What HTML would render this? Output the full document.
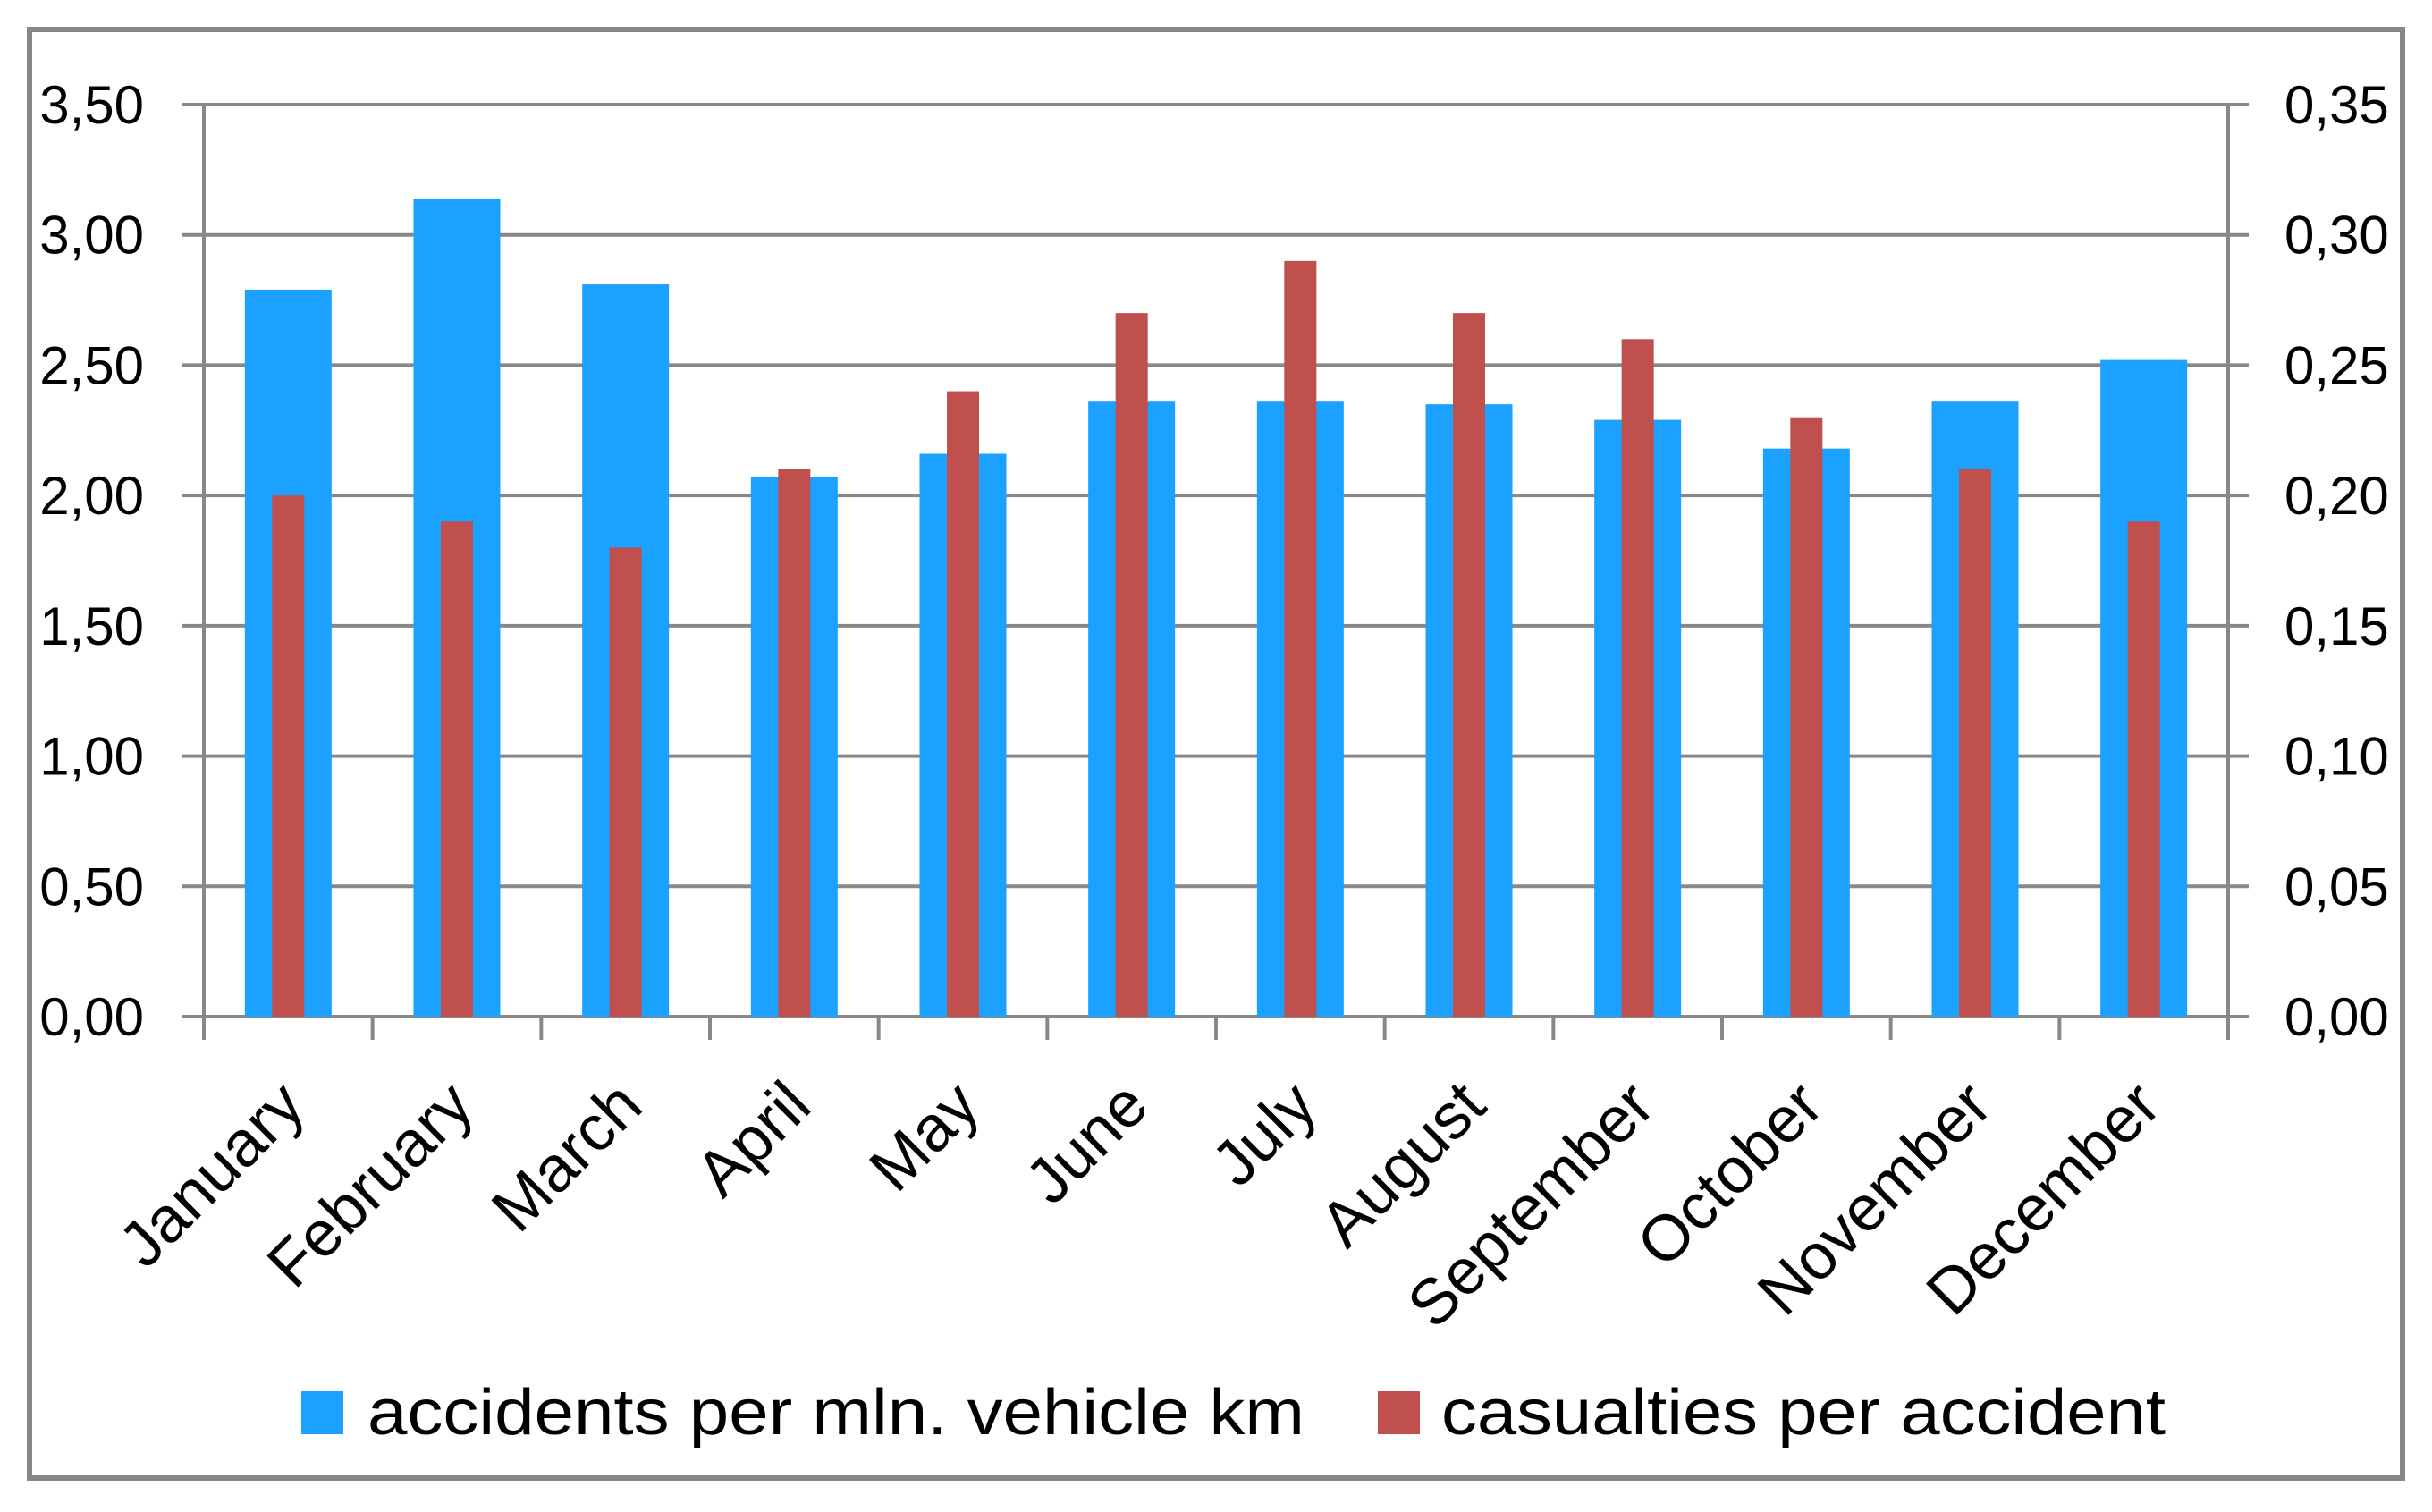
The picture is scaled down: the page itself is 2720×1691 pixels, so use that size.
<!DOCTYPE html>
<html><head><meta charset="utf-8"><style>
html,body{margin:0;padding:0;background:#fff;}
svg{display:block;font-family:"Liberation Sans",sans-serif;}
</style></head><body>
<svg id="chart" width="2720" height="1691" viewBox="0 0 2720 1691">
<rect x="33" y="33" width="2654" height="1620" fill="#fff" stroke="#888" stroke-width="6"/>
<g id="grid"></g><g id="bars"></g><g id="axes"></g><g id="labels"></g>
<g>
<rect x="337" y="1556" width="47" height="48" fill="#1BA1FF"/>
<text x="411" y="1604" font-size="72" textLength="1048" lengthAdjust="spacingAndGlyphs">accidents per mln. vehicle km</text>
<rect x="1541" y="1556" width="47" height="48" fill="#C0504D"/>
<text x="1612" y="1604" font-size="72" textLength="810" lengthAdjust="spacingAndGlyphs">casualties per accident</text>
</g>
</svg>
<script>
const categories=["January","February","March","April","May","June","July","August","September","October","November","December"];
const accidents=[2.79,3.14,2.81,2.07,2.16,2.36,2.36,2.35,2.29,2.18,2.36,2.52];
const casualties=[0.20,0.19,0.18,0.21,0.24,0.27,0.29,0.27,0.26,0.23,0.21,0.19];
const leftTicks=["0,00","0,50","1,00","1,50","2,00","2,50","3,00","3,50"];
const rightTicks=["0,00","0,05","0,10","0,15","0,20","0,25","0,30","0,35"];
const NS="http://www.w3.org/2000/svg";
const X0=228,X1=2492,Y0=1137,Y1=117;
const bw=(X1-X0)/categories.length;
function yL(v){return Y0-(v/3.5)*(Y0-Y1);}
function yR(v){return Y0-(v/0.35)*(Y0-Y1);}
function xC(i){return X0+bw*(i+0.5);}
function mk(tag,attrs,parent){const e=document.createElementNS(NS,tag);for(const k in attrs)e.setAttribute(k,attrs[k]);document.getElementById(parent).appendChild(e);return e;}
leftTicks.forEach((t,i)=>{
  const y=yL(i*0.5);
  const g=mk('line',{x1:203,x2:2515,y1:y,y2:y,stroke:'#888','stroke-width':4},'grid');
  
  
  const a=mk('text',{x:161,y:y+21,'font-size':60,'text-anchor':'end',fill:'#000'},'labels');a.textContent=t;
  
  
  const b=mk('text',{x:2555,y:y+21,'font-size':60,fill:'#000'},'labels');b.textContent=rightTicks[i];
  
  
});
categories.forEach((c,i)=>{
  const cx=xC(i);
  const h=yL(accidents[i]);
  const r1=mk('rect',{x:cx-48.5,y:h,width:97,height:Y0-h,fill:'#1BA1FF'},'bars');
  
  
  const h2=yR(casualties[i]);
  const r2=mk('rect',{x:cx-18,y:h2,width:36,height:Y0-h2,fill:'#C0504D'},'bars');
  
  
  const ax=cx+22, ay=1240;
  const t=mk('text',{x:ax,y:ay,'font-size':72,'text-anchor':'end',transform:'rotate(-45 '+ax+' '+ay+')',fill:'#000'},'labels');
  t.textContent=c;
  
  
});
for(let i=0;i<=categories.length;i++){
  const x=X0+bw*i;
  const l=mk('line',{x1:x,x2:x,y1:Y0,y2:1163,stroke:'#888','stroke-width':4},'axes');
  
  
}
const la=mk('line',{x1:X0,x2:X0,y1:Y1,y2:1163,stroke:'#888','stroke-width':4},'axes');


const ra=mk('line',{x1:X1,x2:X1,y1:Y1,y2:1163,stroke:'#888','stroke-width':4},'axes');


</script>
</body></html>
